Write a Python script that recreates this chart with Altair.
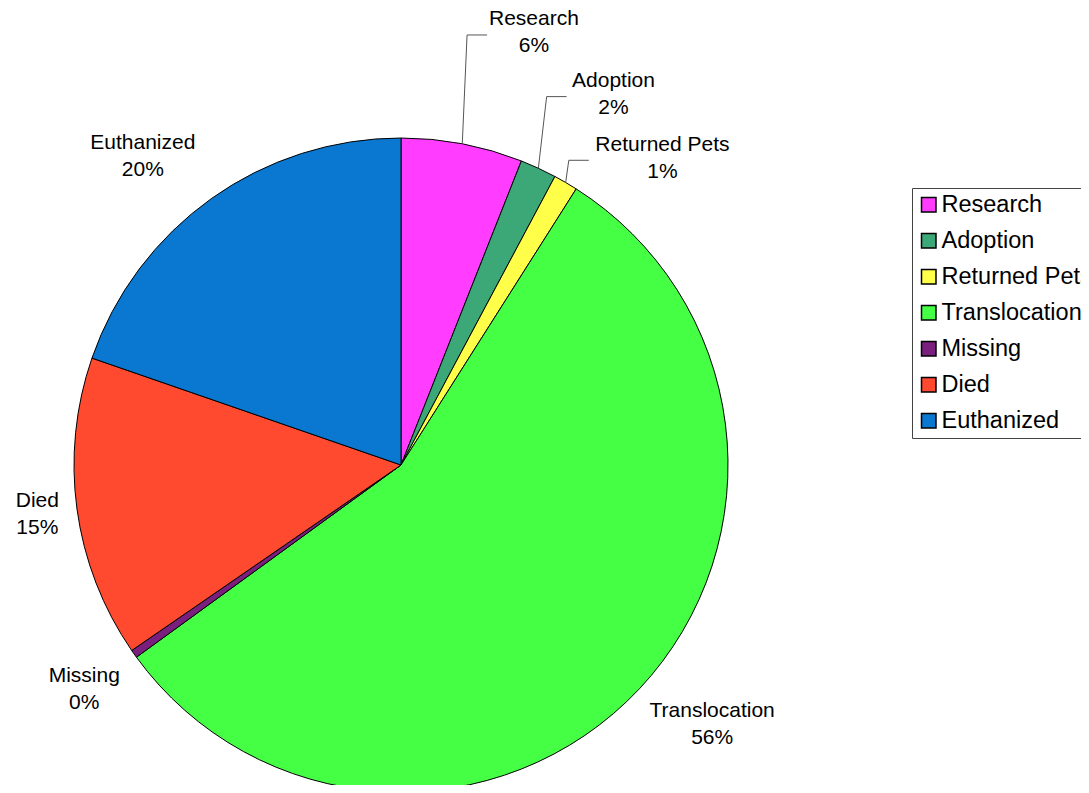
import math
import altair as alt
import pandas as pd

# ---- data ----
categories = ["Research", "Adoption", "Returned Pets", "Translocation",
              "Missing", "Died", "Euthanized"]
shares = [6.0, 1.8, 1.2, 56.0, 0.4, 14.9, 19.7]
pct_labels = ["6%", "2%", "1%", "56%", "0%", "15%", "20%"]

# ---- styles ----
colors = ["#FF3CFF", "#3CA878", "#FFFF4A", "#44FF44",
          "#7A1F7E", "#FF4A30", "#0A78D0"]

# ---- layout (pixels, chart coordinates) ----
CX, CY, R = 393, 457, 327
label_shift = [6.3, 5.0, 10.2, -3.4, 0.0, 0.0, -4.5]     # deg from slice middle
label_dist = [452, 427, 403, 405, 388, 367, 402]
has_leader = [True, True, True, False, False, False, False]
FONT = "Liberation Sans"
LABEL_FS = 21
LINE_H = 27
CHAR_W = 0.51 * LABEL_FS

total = sum(shares)
rows, lines = [], []
cum = 0.0
for i, (c, v, p) in enumerate(zip(categories, shares, pct_labels)):
    a0 = cum / total * 360
    cum += v
    a1 = cum / total * 360
    mid = (a0 + a1) / 2
    la = math.radians(mid + label_shift[i])
    lx = CX + label_dist[i] * math.sin(la)
    ly = CY - label_dist[i] * math.cos(la)
    rows.append({"category": c, "value": v, "idx": i,
                 "label": f"{c}\n{p}", "lx": lx, "ly": ly - LINE_H / 2})
    if has_leader[i]:
        m = math.radians(mid)
        sx = CX + R * math.sin(m)
        sy = CY - R * math.cos(m)
        halfw = len(c) * CHAR_W / 2
        ex = lx - halfw - 4
        ey = ly + 2
        pts = [(sx, sy), (ex - 20, ey), (ex, ey)]
        for k, (px, py) in enumerate(pts):
            lines.append({"category": c, "k": k, "x": px, "y": py})

df = pd.DataFrame(rows)
ldf = pd.DataFrame(lines)

pie = alt.Chart(df).mark_arc(radius=R, stroke="black", strokeWidth=1).encode(
    theta=alt.Theta("value:Q", stack=True),
    order=alt.Order("idx:Q", sort="ascending"),
    color=alt.Color(
        "category:N",
        scale=alt.Scale(domain=categories, range=colors),
        sort=categories,
        legend=alt.Legend(
            orient="none", legendX=904, legendY=180, title=None,
            symbolType="square", symbolSize=210,
            symbolStrokeColor="black", symbolStrokeWidth=1.5,
            symbolOpacity=1,
            labelFont=FONT, labelFontSize=23.5, labelColor="black",
            labelOffset=1, rowPadding=11, padding=5,
            strokeColor="#444444", labelLimit=400,
        ),
    ),
    x=alt.value(CX),
    y=alt.value(CY),
)

leaders = alt.Chart(ldf).mark_line(color="#555555", strokeWidth=1).encode(
    x=alt.X("x:Q", scale=None, axis=None),
    y=alt.Y("y:Q", scale=None, axis=None),
    detail="category:N",
    order="k:Q",
)

labels = alt.Chart(df).mark_text(
    font=FONT, fontSize=LABEL_FS, lineBreak="\n", lineHeight=LINE_H,
    align="center", baseline="middle", color="black",
).encode(
    x=alt.X("lx:Q", scale=None, axis=None),
    y=alt.Y("ly:Q", scale=None, axis=None),
    text="label:N",
)

chart = alt.layer(pie, leaders, labels).properties(
    width=1073, height=777,
    autosize=alt.AutoSizeParams(type="none"),
    padding=0,
    background="white",
).configure_view(stroke=None)

chart.save("out.html", embed_options={"renderer": "svg", "actions": False})
